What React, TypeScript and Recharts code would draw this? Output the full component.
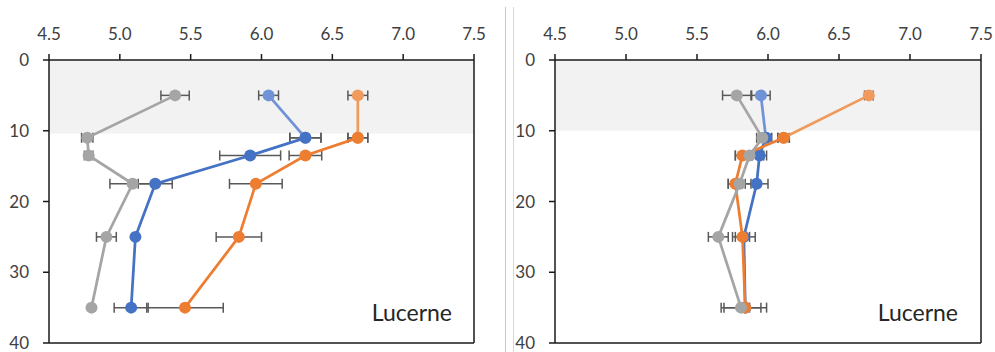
import React from 'react';
import { ScatterChart, Scatter, XAxis, YAxis, ErrorBar, ReferenceArea, ReferenceLine } from 'recharts';

const depths = [5, 11, 13.5, 17.5, 25, 35];
const xTicks = [4.5, 5.0, 5.5, 6.0, 6.5, 7.0, 7.5];
const yTicks = [0, 10, 20, 30, 40];
const panelLabel = 'Lucerne';

// Left panel
const leftGrey = [5.39, 4.77, 4.78, 5.09, 4.905, 4.8];
const leftGreyErr = [0.1, 0.04, 0.03, 0.16, 0.07, 0];
const leftBlue = [6.05, 6.31, 5.92, 5.25, 5.11, 5.08];
const leftBlueErr = [0.07, 0.11, 0.215, 0.12, 0, 0.12];
const leftOrange = [6.68, 6.68, 6.31, 5.96, 5.84, 5.46];
const leftOrangeErr = [0.07, 0.07, 0.115, 0.186, 0.16, 0.27];
const leftBandEnd = 10.4;

// Right panel
const rightGrey = [5.78, 5.96, 5.87, 5.8, 5.65, 5.81];
const rightGreyErr = [0.1, 0.04, 0.1, 0.08, 0.07, 0.14];
const rightBlue = [5.95, 5.985, 5.94, 5.92, 5.83, 5.84];
const rightBlueErr = [0.065, 0.04, 0.05, 0.08, 0.08, 0.15];
const rightOrange = [6.71, 6.11, 5.82, 5.77, 5.82, 5.84];
const rightOrangeErr = [0.03, 0.04, 0.05, 0.05, 0.05, 0.03];
const rightBandEnd = 10;

const GREY = '#a5a5a5';
const BLUE = '#4472c4';
const BLUE_LIGHT = '#6f93d6';
const ORANGE = '#ed7d31';
const ORANGE_LIGHT = '#f09a5e';
const TEXT = '#404040';
const AXIS = '#1a1a1a';
const FONT = 'Lato, "Open Sans", sans-serif';

type Pt = { x: number; y: number; err: number };
const pts = (vals: number[], errs: number[]): Pt[] =>
  vals.map((v, i) => ({ x: v, y: depths[i], err: errs[i] }));

const dot = (color: string) => (p: any) => <circle cx={p.cx} cy={p.cy} r={6} fill={color} />;

function renderSeries(key: string, vals: number[], errs: number[], color: string, lightColor?: string) {
  const all = pts(vals, errs);
  const out: any[] = [];
  const eb = <ErrorBar dataKey="err" direction="x" width={5} stroke="#595959" strokeWidth={1.5} />;
  if (lightColor) {
    out.push(
      <Scatter key={key + 'top'} xAxisId="main" yAxisId="main" data={all.slice(0, 2)} fill={lightColor}
        line={{ stroke: lightColor, strokeWidth: 2.75 }} shape={dot(lightColor)} isAnimationActive={false}>
        {eb}
      </Scatter>
    );
    out.push(
      <Scatter key={key} xAxisId="main" yAxisId="main" data={all.slice(1)} fill={color}
        line={{ stroke: color, strokeWidth: 2.75 }} shape={dot(color)} isAnimationActive={false}>
        {eb}
      </Scatter>
    );
  } else {
    out.push(
      <Scatter key={key} xAxisId="main" yAxisId="main" data={all} fill={color}
        line={{ stroke: color, strokeWidth: 2.75 }} shape={dot(color)} isAnimationActive={false}>
        {eb}
      </Scatter>
    );
  }
  return out;
}

function Panel({ width, margin, bandEnd, grey, greyErr, blue, blueErr, orange, orangeErr }: any) {
  const tick = { fill: TEXT, fontSize: 17, fontFamily: FONT };
  const line = { stroke: AXIS, strokeWidth: 1.5 };
  return (
    <ScatterChart width={width} height={352} margin={margin}>
      <XAxis xAxisId="inner" type="number" orientation="top" mirror domain={[4.5, 7.5]} ticks={xTicks}
        allowDataOverflow height={0} axisLine={false} tickLine={line} tickSize={3} tick={false} interval={0} />
      <YAxis yAxisId="inner" type="number" orientation="left" mirror reversed domain={[0, 40]} ticks={yTicks}
        allowDataOverflow width={0} axisLine={false} tickLine={line} tickSize={3} tick={false} interval={0} />
      <XAxis xAxisId="main" type="number" dataKey="x" orientation="top" domain={[4.5, 7.5]} ticks={xTicks}
        allowDataOverflow tickFormatter={(v: number) => v.toFixed(1)} height={30}
        axisLine={line} tickLine={line} tickSize={6} tickMargin={14} tick={tick} interval={0} />
      <YAxis yAxisId="main" type="number" dataKey="y" reversed domain={[0, 40]} ticks={yTicks} allowDataOverflow width={40}
        axisLine={line} tickLine={line} tickSize={6} tickMargin={14} tick={tick} interval={0} />
      <ReferenceArea xAxisId="main" yAxisId="main" x1={4.5} x2={7.5} y1={0} y2={bandEnd} fill="#f2f2f2" fillOpacity={1} stroke="none" />
      <ReferenceLine xAxisId="main" yAxisId="main" x={7.5} stroke={AXIS} strokeWidth={1.5} />
      <ReferenceLine xAxisId="main" yAxisId="main" y={40} stroke={AXIS} strokeWidth={1.5} />
      {renderSeries('b', blue, blueErr, BLUE, BLUE_LIGHT)}
      {renderSeries('o', orange, orangeErr, ORANGE, ORANGE_LIGHT)}
      {renderSeries('g', grey, greyErr, GREY)}
    </ScatterChart>
  );
}

export default function App() {
  return (
    <div style={{ position: 'absolute', left: 0, top: 0, width: 995, height: 352, background: '#fff', overflow: 'hidden' }}>
      <div style={{ position: 'absolute', left: 0, top: 0 }}>
        <Panel width={500} margin={{ top: 30, right: 26, bottom: 9, left: 9 }} bandEnd={leftBandEnd}
          grey={leftGrey} greyErr={leftGreyErr} blue={leftBlue} blueErr={leftBlueErr}
          orange={leftOrange} orangeErr={leftOrangeErr} />
      </div>
      <div style={{ position: 'absolute', left: 500, top: 0 }}>
        <Panel width={495} margin={{ top: 30, right: 14, bottom: 9, left: 15 }} bandEnd={rightBandEnd}
          grey={rightGrey} greyErr={rightGreyErr} blue={rightBlue} blueErr={rightBlueErr}
          orange={rightOrange} orangeErr={rightOrangeErr} />
      </div>
      <svg width={995} height={352} style={{ position: 'absolute', left: 0, top: 0, pointerEvents: 'none' }}>
        <line x1={505.5} y1={7} x2={505.5} y2={352} stroke="#c8c8c8" strokeWidth={1} />
        <line x1={513.5} y1={7} x2={513.5} y2={352} stroke="#d8d8d8" strokeWidth={1} />
        <text x={452} y={321} textAnchor="end" fontFamily={FONT} fontSize={23} fill="#262626">{panelLabel}</text>
        <text x={958} y={321} textAnchor="end" fontFamily={FONT} fontSize={23} fill="#262626">{panelLabel}</text>
      </svg>
    </div>
  );
}
